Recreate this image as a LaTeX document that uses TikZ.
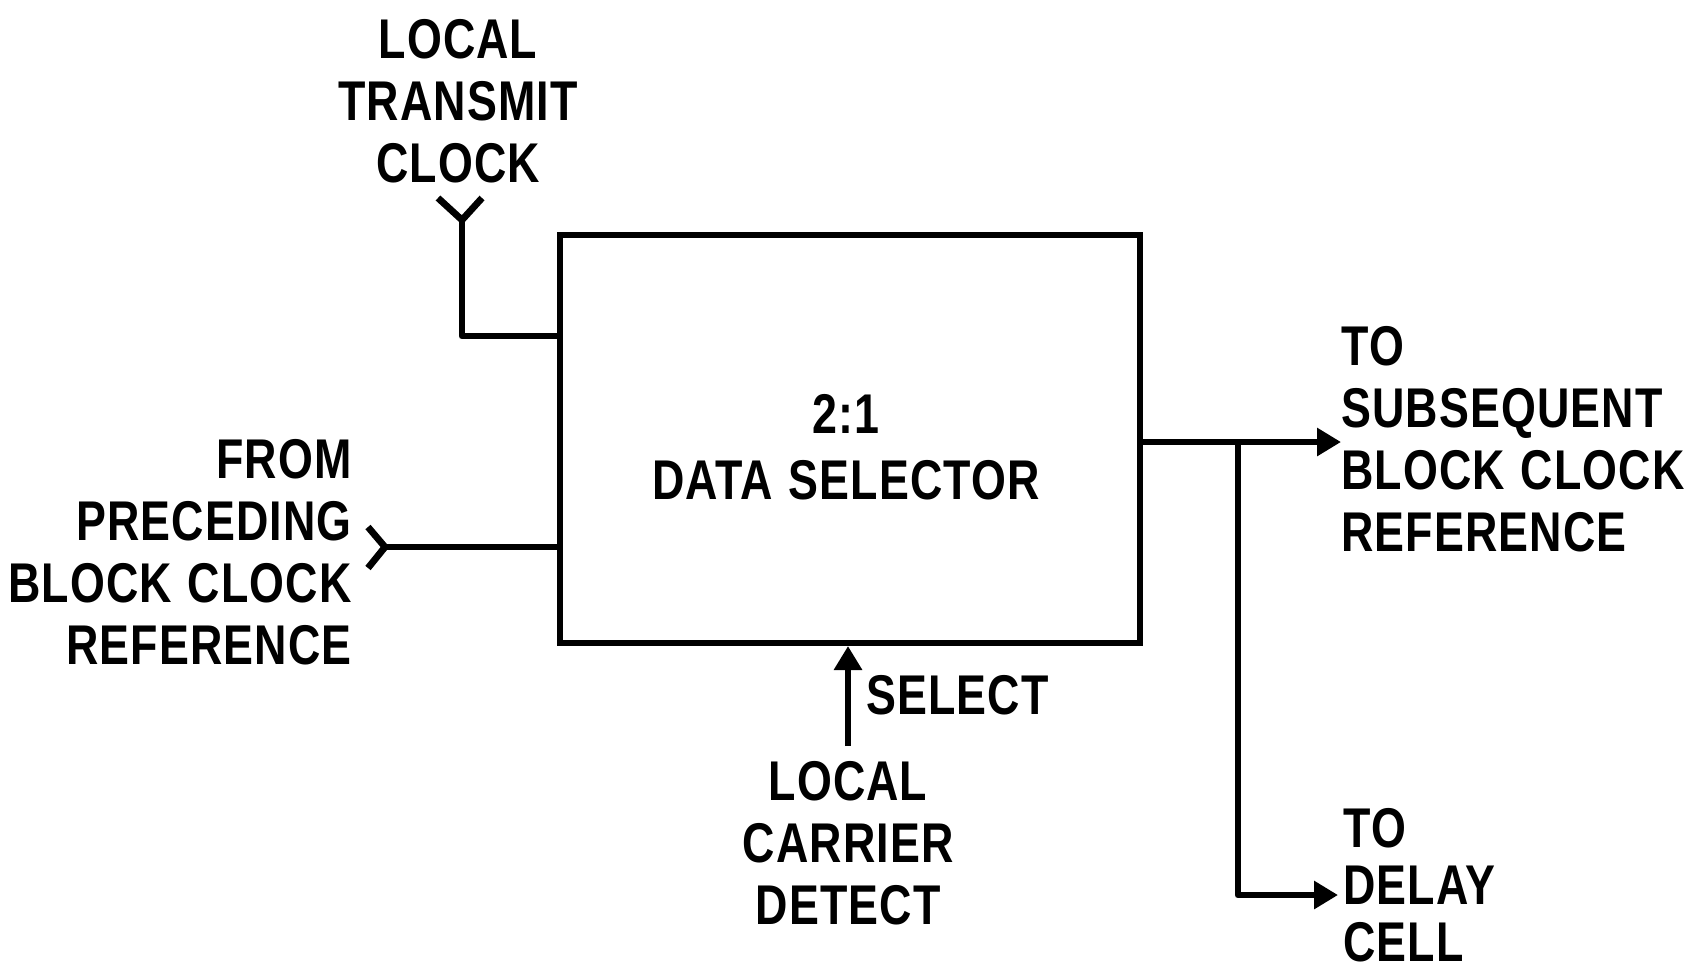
\documentclass[tikz,border=0pt]{standalone}
\usepackage{fontspec}
\setmainfont{Liberation Sans}
\newfontfamily\lblfont{Liberation Sans}[FakeStretch=0.8, LetterSpace=2, WordSpace=1.15]
\usetikzlibrary{arrows.meta}
\tikzset{
  lbl/.style={font=\lblfont\bfseries\fontsize{28}{31}\selectfont, inner sep=0pt},
  wire/.style={line width=3.4pt, line join=round},
  boxline/.style={line width=3pt},
  tipA/.style={-{Triangle[length=12pt,width=13.5pt]}},
}
\begin{document}
\begin{tikzpicture}[x=0.5pt,y=-0.5pt]
\useasboundingbox (0,0) rectangle (1689,971);
% main box
\node[draw, boxline, minimum width=290pt, minimum height=204pt, inner sep=0pt] (sel) at (850,439) {};
\node[lbl, align=center] (seltxt) at (846,447) {2:1\\[2pt]DATA SELECTOR};
% labels
\node[lbl, align=center] (ltc) at (458,101) {LOCAL\\TRANSMIT\\CLOCK};
\node[lbl, align=right, anchor=east] (prec) at (352,552) {FROM\\PRECEDING\\BLOCK CLOCK\\REFERENCE};
\node[lbl, align=left, anchor=west] (subs) at (1341,439) {TO\\SUBSEQUENT\\BLOCK CLOCK\\REFERENCE};
\node[lbl, align=left, anchor=west, font=\lblfont\bfseries\fontsize{28}{28.5}\selectfont] (dly) at (1343,885) {TO\\DELAY\\CELL};
\node[lbl, align=center] (lcd) at (848,843) {LOCAL\\CARRIER\\DETECT};
\node[lbl, anchor=west] (selecttxt) at (866,695) {SELECT};
% coordinates
\coordinate (ytop) at (462,220);
\coordinate (tin) at (560,336);
\coordinate (lin) at (385,547);
\coordinate (br) at (1238,442);
\coordinate (dout) at (1338,895);
\coordinate (sbot) at (848,746);
% local transmit clock input
\draw[wire] (438,198) -- (ytop) -- (482,198);
\draw[wire] (ytop) |- (tin -| sel.west);
% preceding block input
\draw[wire] (368,527) -- (lin) -- (368,568);
\draw[wire] (lin) -- (lin -| sel.west);
% outputs
\draw[wire, tipA] (br -| sel.east) -- (br -| subs.west);
\draw[wire, tipA] (br) |- (dout);
% select
\draw[wire, tipA] (sbot) -- (sbot |- sel.south);
\end{tikzpicture}
\end{document}
